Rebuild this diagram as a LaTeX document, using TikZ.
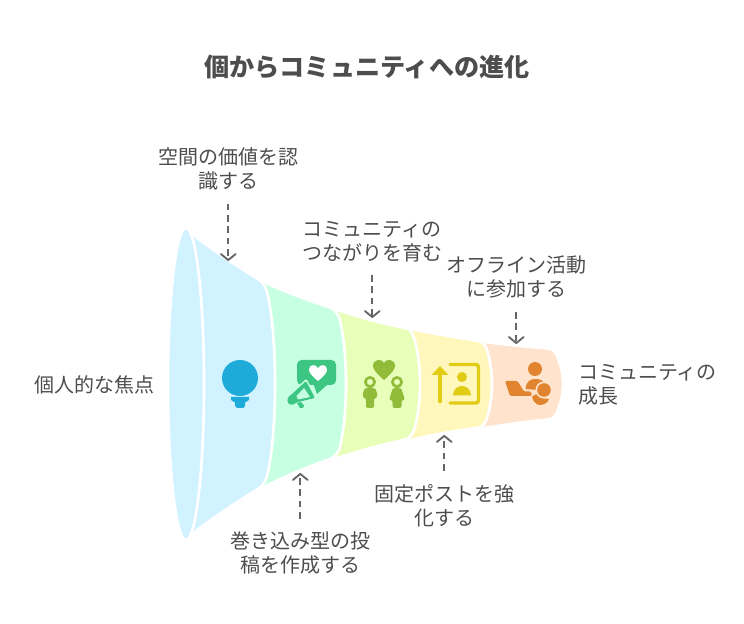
\documentclass[tikz,border=0pt]{standalone}
\usepackage{fontspec}
\setmainfont{Noto Sans CJK JP}
\usetikzlibrary{arrows.meta}
\definecolor{txtgray}{HTML}{4D4D4D}
\definecolor{arrowgray}{HTML}{666666}
\definecolor{bluefill}{HTML}{D1F3FF}
\definecolor{greenfill}{HTML}{C7FFE3}
\definecolor{limefill}{HTML}{E8FFB9}
\definecolor{yellowfill}{HTML}{FFF7BC}
\definecolor{orangefill}{HTML}{FFE3CC}
\definecolor{blueicon}{HTML}{1EABDA}
\definecolor{greenicon}{HTML}{3CC583}
\definecolor{limeicon}{HTML}{90BC3A}
\definecolor{yellowicon}{HTML}{E0CB15}
\definecolor{orangeicon}{HTML}{E0842F}
\tikzset{
  labeltext/.style={align=center, text=txtgray, inner sep=0pt, outer sep=10pt,
    font=\fontsize{15pt}{18pt}\selectfont},
  flow/.style={draw=arrowgray, line width=1.4pt, dash pattern=on 5pt off 3.5pt,
    -{Straight Barb[length=4.5pt,width=11pt,line width=1.4pt,round]}},
  band/.style={draw=white, line width=2pt, line join=round},
}
\begin{document}
\begin{tikzpicture}[x=0.75pt, y=-0.75pt]
    \useasboundingbox (0, 0) rectangle (744, 624);
    % funnel, narrow end first
    \path [band, fill=orangefill] (470, 341) -- (484, 342) .. controls (510, 345) and (530, 347) .. (548, 348.5)
      .. controls (552, 349) and (555, 351) .. (557, 356) .. controls (561, 365) and (563, 375) .. (563, 384)
      .. controls (563, 393) and (561, 403) .. (557, 412) .. controls (555, 417) and (552, 419) .. (548, 419.5)
      .. controls (530, 421) and (510, 424) .. (484, 428) -- (470, 429) -- cycle;
    \path [band, fill=yellowfill] (395, 325) -- (411, 329) .. controls (435, 334) and (460, 338) .. (479, 341)
      .. controls (483, 342) and (485, 344) .. (487, 350) .. controls (490, 360) and (492, 372) .. (492, 384)
      .. controls (492, 396) and (490, 408) .. (487, 418) .. controls (485, 424) and (483, 426) .. (479, 427.5)
      .. controls (460, 430) and (435, 434) .. (411, 440) -- (395, 443) -- cycle;
    \path [band, fill=limefill] (325, 306) -- (337, 310) .. controls (362, 318) and (385, 324) .. (405, 328)
      .. controls (410, 329) and (412, 332) .. (414, 338) .. controls (418, 350) and (420, 368) .. (420, 384)
      .. controls (420, 400) and (418, 418) .. (414, 430) .. controls (412, 435) and (410, 438) .. (405, 439.5)
      .. controls (385, 444) and (362, 450) .. (337, 458) -- (325, 462) -- cycle;
    \path [band, fill=greenfill] (250, 276) -- (264, 282) .. controls (285, 292) and (310, 301) .. (330, 307.5)
      .. controls (335, 309) and (338, 314) .. (340, 320) .. controls (344, 338) and (346, 362) .. (346, 384)
      .. controls (346, 406) and (344, 430) .. (340, 447) .. controls (338, 453) and (335, 457) .. (330, 459)
      .. controls (310, 466) and (285, 476) .. (264, 487) -- (250, 494) -- cycle;
    \path [band, fill=bluefill] (186, 230) -- (192, 234) .. controls (215, 252) and (240, 268) .. (258, 279)
      .. controls (263, 282) and (266, 287) .. (268, 296) .. controls (273, 320) and (275, 352) .. (275, 384)
      .. controls (275, 416) and (273, 448) .. (268, 472) .. controls (266, 481) and (263, 486) .. (258, 489)
      .. controls (240, 500) and (215, 516) .. (192, 534) -- (186, 538) -- cycle;
    \path [band, fill=bluefill] (186, 384) ellipse [x radius=18, y radius=156];
    % bulb
    \fill [blueicon] (240, 378) circle [radius=18];
    \fill [blueicon] (231, 397) -- (249, 397) -- (249, 400) -- (245, 402.5) -- (245, 406) -- (243, 408) -- (237, 408)
      -- (235, 406) -- (235, 402.5) -- (231, 400) -- cycle;
    % speech bubble and megaphone
    \fill [greenicon, rounded corners=3.5pt] (297, 360) rectangle (336, 385);
    \fill [greenicon] (312, 380) -- (328, 384) -- (317, 394) -- cycle;
    \fill [white] (318, 381) .. controls (312, 376) and (309, 373) .. (309, 369.5) .. controls (309, 364) and (316, 364) .. (318, 368)
      .. controls (320, 364) and (327, 364) .. (327, 369.5) .. controls (327, 373) and (324, 376) .. (318, 381) -- cycle;
    \draw [greenfill, line width=2.2pt, line join=round] (306, 381) -- (315, 398) -- (298, 402) -- (292, 405)
      .. controls (287, 404) and (286, 398) .. (291, 395) -- cycle;
    \fill [greenicon, rounded corners=1pt] (306, 381) -- (315, 398) -- (298, 402) -- (292, 405)
      .. controls (287, 404) and (286, 398) .. (291, 395) -- cycle;
    \fill [greenfill] (304, 388) -- (310, 397) -- (298, 399.5) -- (296.5, 396) -- cycle;
    \fill [greenicon] (297, 403) -- (301, 402) -- (304, 405.5) -- (303, 408) -- (300, 408) -- cycle;
    % two figures and heart
    \fill [limeicon] (384, 380) .. controls (376, 373) and (373, 369) .. (373, 366) .. controls (373, 359) and (382, 358) .. (384, 363)
      .. controls (386, 358) and (395, 359) .. (395, 366) .. controls (395, 369) and (392, 373) .. (384, 380) -- cycle;
    \draw [limeicon, line width=2pt] (370, 382) circle [radius=4.6];
    \draw [limeicon, line width=2pt] (397, 382) circle [radius=4.6];
    \fill [limeicon, rounded corners=1.5pt] (366, 387.5) -- (374, 387.5) -- (377, 391) -- (377, 398) -- (374, 398) -- (374, 408) -- (366, 408) -- (366, 398)
      -- (363, 398) -- (363, 391) -- cycle;
    \fill [limeicon, rounded corners=1.5pt] (393, 387.5) -- (401, 387.5) -- (405, 400) -- (401.5, 400) -- (401.5, 408) -- (392.5, 408) -- (392.5, 400) -- (389, 400) -- cycle;
    % arrow and portrait frame
    \fill [yellowicon] (440, 366) -- (448.5, 375) -- (431.5, 375) -- cycle;
    \draw [yellowicon, line width=2.6pt, line cap=round] (440, 374) -- (440, 401.5);
    \draw [yellowicon, line width=2.6pt, line cap=round, rounded corners=2pt] (450, 364.5) -- (478.5, 364.5) -- (478.5, 403) -- (450, 403);
    \fill [yellowicon] (462, 377) circle [radius=5];
    \fill [yellowicon] (453, 395.5) .. controls (453, 390) and (457, 386) .. (462, 386) .. controls (467, 386) and (471, 390) .. (471, 395.5) -- cycle;
    % laptop and person
    \fill [orangeicon] (535, 369) circle [radius=7];
    \fill [orangeicon] (525.5, 389) .. controls (526, 382) and (530, 379) .. (535, 379) .. controls (539, 379) and (543, 380) .. (545, 384) -- (538, 390) -- cycle;
    \fill [orangeicon, rounded corners=1pt] (505, 381) -- (517.5, 381) -- (524, 391.5) -- (531, 391.5) -- (532, 396) -- (510, 396) -- cycle;
    \fill [orangeicon] (532, 397) .. controls (533, 395) and (536, 394) .. (538, 394) .. controls (540, 399) and (544, 398) .. (549, 399)
      .. controls (548, 403) and (543, 405) .. (540, 405) .. controls (536, 405) and (533, 401) .. (532, 397) -- cycle;
    \fill [orangefill] (544, 390) circle [radius=8.6];
    \fill [orangeicon] (544, 390) circle [radius=6.8];
    % title and labels
    \node (title) at (367, 67) {\fontsize{18.85pt}{22pt}\selectfont\bfseries\textcolor{txtgray}{個からコミュニティへの進化}};
    \node [labeltext] (space) at (228.3, 169.2) {空間の価値を認\\識する};
    \node [labeltext] (bond) at (372.3, 241.4) {コミュニティの\\つながりを育む};
    \node [labeltext] (offline) at (516.3, 277.4) {オフライン活動\\に参加する};
    \node [labeltext] (pinned) at (444.3, 505.4) {固定ポストを強\\化する};
    \node [labeltext] (engage) at (300.3, 553.4) {巻き込み型の投\\稿を作成する};
    \node [labeltext, anchor=east, outer sep=0pt] (focus) at (154.5, 385) {個人的な焦点};
    \node [labeltext, anchor=west, align=left, outer sep=0pt] (growth) at (578, 385.2) {コミュニティの\\成長};
    % connectors
    \coordinate (spacetip) at (228.3, 261);
    \coordinate (bondtip) at (372.3, 318);
    \coordinate (offlinetip) at (516.3, 344);
    \coordinate (pinnedtip) at (444.3, 435);
    \coordinate (engagetip) at (300.3, 473);
    \draw [flow] (space) to (spacetip);
    \draw [flow] (bond) to (bondtip);
    \draw [flow] (offline) to (offlinetip);
    \draw [flow] (pinned) to (pinnedtip);
    \draw [flow] (engage) to (engagetip);
\end{tikzpicture}
\end{document}
